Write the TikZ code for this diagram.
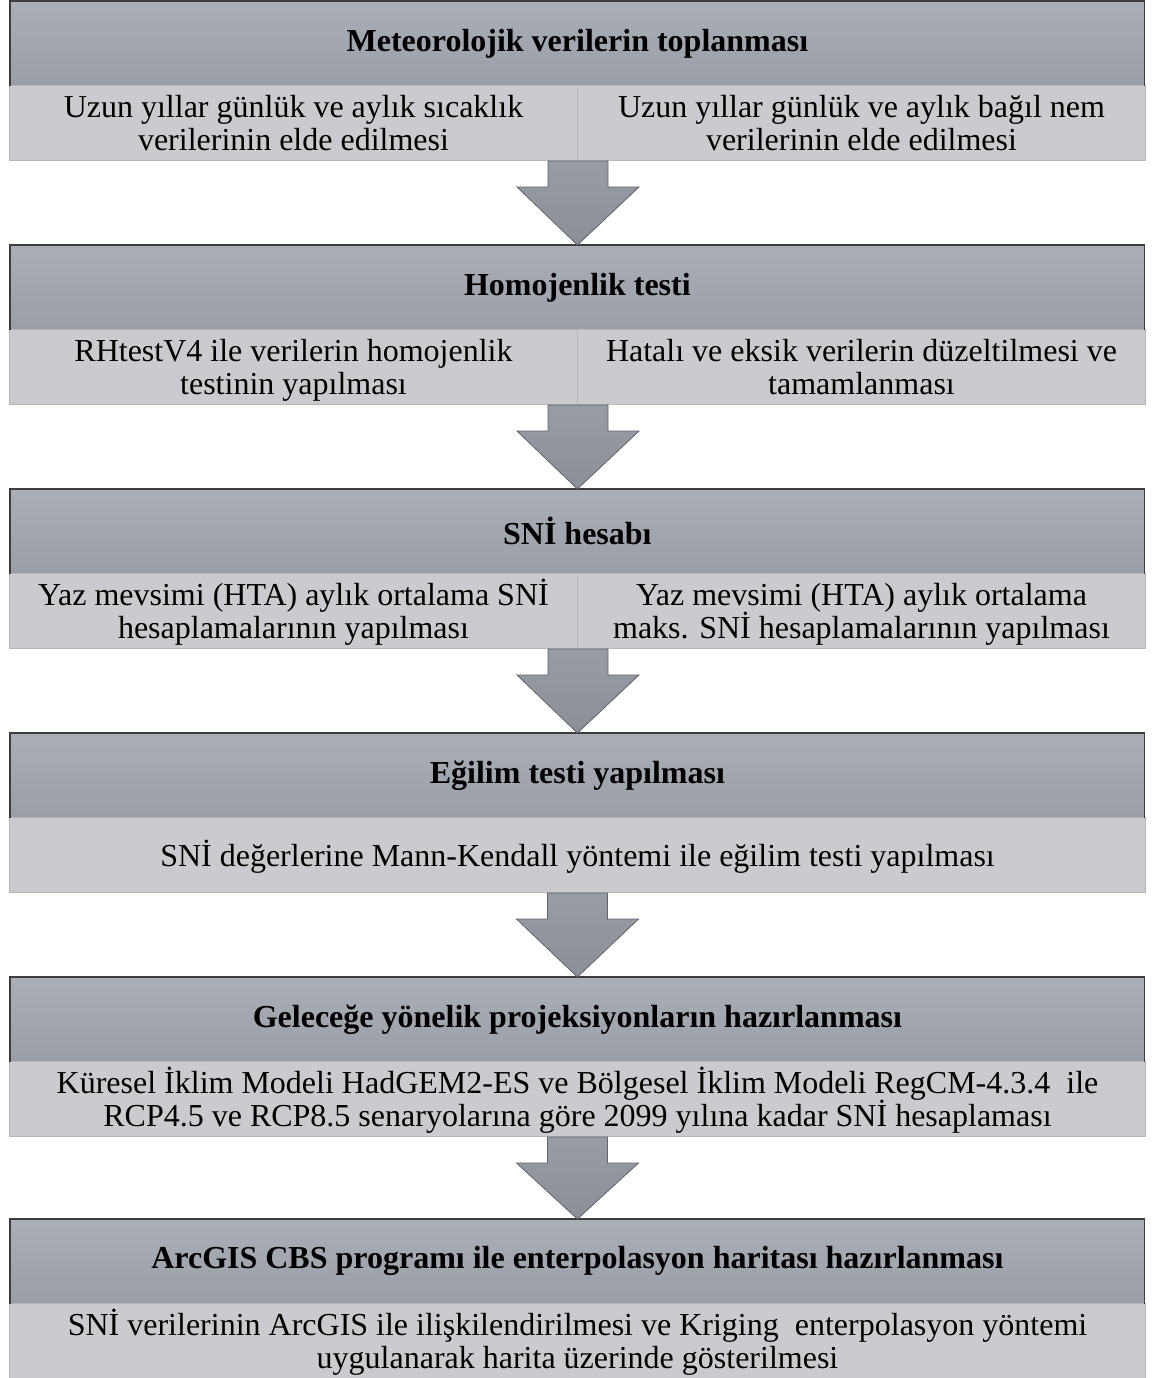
\documentclass[tikz,border=0pt]{standalone}
\usepackage{fontspec}
\setmainfont{Liberation Serif}
\usetikzlibrary{calc}
\definecolor{hdtop}{HTML}{AAAEB6}
\definecolor{hdbot}{HTML}{9A9EA7}
\definecolor{subfill}{HTML}{C9CBCE}
\definecolor{subedge}{HTML}{B4B6BA}
\definecolor{arrtop}{HTML}{989CA5}
\definecolor{arrbot}{HTML}{8A8F98}
\definecolor{arredge}{HTML}{5F636B}
\definecolor{edgedark}{HTML}{3C3C3C}
\newcommand\tstrut{\rule[-4pt]{0pt}{19pt}}
\newcommand\subfont{\fontsize{16}{16.3}\selectfont\lineskiplimit=-20pt\relax\lineskip=0pt\relax}
\newcommand\flowarrow[2]{%
  \draw[blockarr] ($(#1)+(-30,0)$) -- ($(#1)+(30,0)$) -- ($(#1)+(30,26)$) -- ($(#1)+(61,26)$)
     -- (#2) -- ($(#1)+(-61,26)$) -- ($(#1)+(-30,26)$) -- cycle;}
\newcommand\hdedge[1]{%
  \draw[edgedark, line width=0.6pt] (#1.south west) -- (#1.north west) -- (#1.north east) -- (#1.south east);}
\begin{document}
\begin{tikzpicture}[x=0.5pt,y=-0.5pt,
  header/.style={top color=hdtop, bottom color=hdbot,
     minimum width=567pt, minimum height=42pt, inner sep=0pt, anchor=north west,
     font=\fontsize{16}{16}\selectfont\bfseries, align=center},
  subcell/.style={draw=subedge, line width=0.5pt, fill=subfill, minimum height=37.5pt,
     inner sep=0pt, anchor=north west, font=\subfont, align=center},
  halfcell/.style={subcell, minimum width=284pt},
  fullcell/.style={subcell, minimum width=568pt},
  blockarr/.style={draw=arredge, line width=0.4pt, top color=arrtop, bottom color=arrbot}]
\fill[white] (0,0) rectangle (1152,1378);
\useasboundingbox (0,0) rectangle (1152,1378);

% Block 1
\node[header] (h1) at (10,1) {Meteorolojik verilerin toplanması};
\node[halfcell] (s1a) at (9,85) {\tstrut Uzun yıllar günlük ve aylık sıcaklık\\\tstrut verilerinin elde edilmesi};
\node[halfcell] (s1b) at (577,85) {\tstrut Uzun yıllar günlük ve aylık bağıl nem\\\tstrut verilerinin elde edilmesi};

% Block 2
\node[header] (h2) at (10,245) {Homojenlik testi};
\node[halfcell] (s2a) at (9,329) {\tstrut RHtestV4 ile verilerin homojenlik\\\tstrut testinin yapılması};
\node[halfcell] (s2b) at (577,329) {\tstrut Hatalı ve eksik verilerin düzeltilmesi ve\\\tstrut tamamlanması};

% Block 3
\node[header] (h3) at (10,489) {SNİ hesabı};
\node[halfcell] (s3a) at (9,573) {\tstrut Yaz mevsimi (HTA) aylık ortalama SNİ\\\tstrut hesaplamalarının yapılması};
\node[halfcell] (s3b) at (577,573) {\tstrut Yaz mevsimi (HTA) aylık ortalama\\\tstrut maks. SNİ hesaplamalarının yapılması};

% Block 4
\node[header] (h4) at (10,733) {Eğilim testi yapılması};
\node[fullcell] (s4) at (9,817) {\tstrut SNİ değerlerine Mann-Kendall yöntemi ile eğilim testi yapılması};

% Block 5
\node[header] (h5) at (10,977) {Geleceğe yönelik projeksiyonların hazırlanması};
\node[fullcell] (s5) at (9,1061) {\tstrut Küresel İklim Modeli HadGEM2-ES ve Bölgesel İklim Modeli RegCM-4.3.4~ ile\\\tstrut RCP4.5 ve RCP8.5 senaryolarına göre 2099 yılına kadar SNİ hesaplaması};

% Block 6
\node[header] (h6) at (10,1219) {ArcGIS CBS programı ile enterpolasyon haritası hazırlanması};
\node[fullcell] (s6) at (9,1303) {\tstrut SNİ verilerinin ArcGIS ile ilişkilendirilmesi ve Kriging~ enterpolasyon yöntemi\\\tstrut uygulanarak harita üzerinde gösterilmesi};

\foreach \h in {h1,h2,h3,h4,h5,h6} {\hdedge{\h}}

% Arrows
\flowarrow{s1a.south east}{h2.north}
\flowarrow{s2a.south east}{h3.north}
\flowarrow{s3a.south east}{h4.north}
\flowarrow{s4.south}{h5.north}
\flowarrow{s5.south}{h6.north}
\end{tikzpicture}
\end{document}
